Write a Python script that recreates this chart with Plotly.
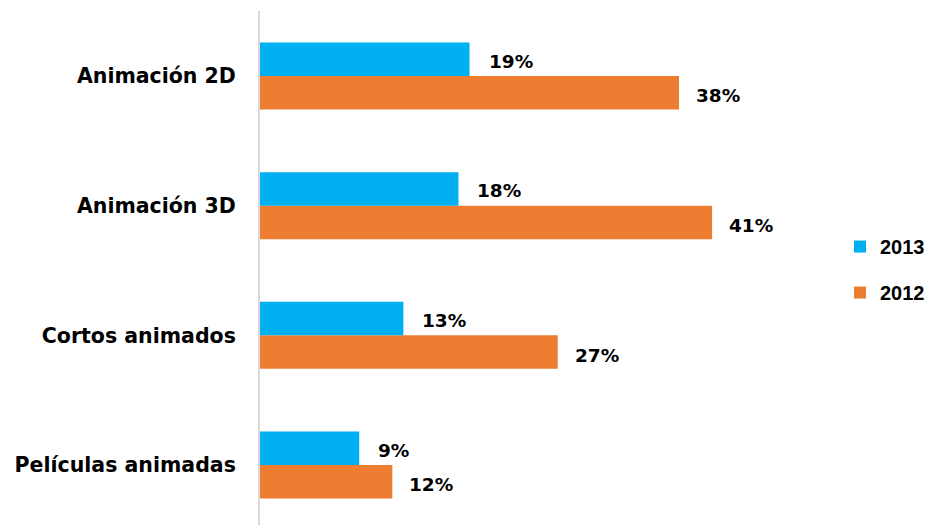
import plotly.graph_objects as go

categories = ["Animación 2D", "Animación 3D", "Cortos animados", "Películas animadas"]
values_2013 = [19, 18, 13, 9]
values_2012 = [38, 41, 27, 12]
series_names = ["2013", "2012"]

BLUE = "#00B0F0"
ORANGE = "#ED7D31"
LABEL_FONT = "DejaVu Sans"

# numeric positions so the top category is first
ypos = [len(categories) - 1 - i for i in range(len(categories))]

fig = go.Figure()
fig.add_trace(go.Bar(
    y=ypos, x=values_2012, name=series_names[1], orientation="h",
    marker=dict(color=ORANGE, line=dict(width=0)), legendgroup="b", legendrank=2,
))
fig.add_trace(go.Bar(
    y=ypos, x=values_2013, name=series_names[0], orientation="h",
    marker=dict(color=BLUE, line=dict(width=0)), legendgroup="a", legendrank=1,
))

bargap = 0.483
half = (1 - bargap) / 4  # offset of each bar center from category center

annotations = []
for yp, v13, v12 in zip(ypos, values_2013, values_2012):
    annotations.append(dict(x=v13, y=yp + half, text=f"{v13}%", xanchor="left",
                            yanchor="middle", showarrow=False, xshift=17, yshift=-2,
                            font=dict(family=LABEL_FONT, size=18.5, color="#000000", weight="bold")))
    annotations.append(dict(x=v12, y=yp - half, text=f"{v12}%", xanchor="left",
                            yanchor="middle", showarrow=False, xshift=15, yshift=-3,
                            font=dict(family=LABEL_FONT, size=18.5, color="#000000", weight="bold")))

fig.update_layout(
    width=930, height=525,
    margin=dict(l=260, r=100, t=11, b=0, pad=0),
    paper_bgcolor="white", plot_bgcolor="white",
    barmode="group", bargap=bargap, bargroupgap=0,
    showlegend=True,
    legend=dict(x=1.02, y=0.497, xanchor="left", yanchor="middle",
                font=dict(family="Liberation Sans", size=20, color="#000000", weight="bold"),
                tracegroupgap=17, itemwidth=30, bgcolor="rgba(0,0,0,0)"),
    annotations=annotations,
    xaxis=dict(range=[0, 51.6], showgrid=False, zeroline=False, showticklabels=False,
               showline=False, ticks=""),
    yaxis=dict(range=[-0.463, 3.502], tickvals=ypos, ticktext=categories,
               showgrid=False, zeroline=False, showline=True, linecolor="#D9D9D9",
               linewidth=2, ticks="", ticklabelstandoff=18,
               tickfont=dict(family=LABEL_FONT, size=20.5, color="#000000", weight="bold")),
)

fig.write_html("out.html")
